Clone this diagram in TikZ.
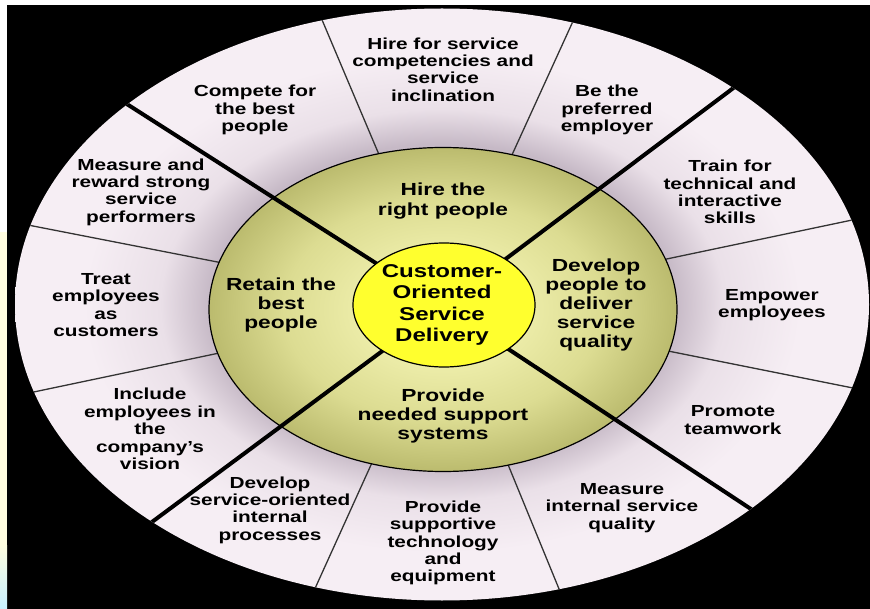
\documentclass[tikz,border=0pt]{standalone}
\usepackage{tikz}
\usepackage{fontspec}
\newfontfamily\lblfont{Liberation Sans}[FakeStretch=1.3]

\definecolor{ringlight}{HTML}{F6EEF4}
\definecolor{ringmid}{HTML}{EAE0E8}
\definecolor{ringshadow}{HTML}{C6B9C6}
\definecolor{olivelight}{HTML}{ECECA8}
\definecolor{olivemid}{HTML}{DCDC92}
\definecolor{olivedark}{HTML}{BBBB6E}
\definecolor{coreyellow}{HTML}{FFFF2E}
\definecolor{stripyellow}{HTML}{FFFDE0}
\definecolor{stripcyan}{HTML}{C8F0FF}

% ring: greyish shadow next to the middle ellipse, fading to pale pink outwards
\pgfdeclareradialshading{ringshade}{\pgfpointorigin}{%
  color(0bp)=(ringshadow); color(13.6bp)=(ringshadow); color(16.5bp)=(ringmid);
  color(21bp)=(ringlight); color(25bp)=(ringlight); color(50bp)=(ringlight)}
% middle ellipse: light olive centre, darker rim
\pgfdeclareradialshading{oliveshade}{\pgfpointorigin}{%
  color(0bp)=(olivelight); color(9bp)=(olivelight); color(17bp)=(olivemid);
  color(25bp)=(olivedark); color(50bp)=(olivedark)}

\begin{document}
\begin{tikzpicture}[x=1pt,y=-1pt,
  ringtext/.style={font=\lblfont\bfseries\fontsize{16}{17.4}\selectfont,
    align=center, inner sep=0pt, text=black},
  midtext/.style={font=\lblfont\bfseries\fontsize{17.5}{19.2}\selectfont,
    align=center, inner sep=0pt, text=black},
  coretext/.style={font=\lblfont\bfseries\fontsize{18.5}{21.3}\selectfont,
    align=center, inner sep=0pt, text=black},
  thinray/.style={draw=black!80, line width=1.3pt},
  thickray/.style={draw=black, line width=4pt},
]
\useasboundingbox (0,0) rectangle (870,609);

% background and page edges
\fill[black] (0,0) rectangle (870,609);
\fill[white] (0,0) rectangle (870,5);
\fill[white] (0,0) rectangle (7,232);
\fill[stripyellow] (0,232) rectangle (7,545);
\shade[top color=stripyellow, bottom color=stripcyan] (0,545) rectangle (7,609);

% common centre of all dividers and their far ends
\coordinate (o) at (443,306);
\coordinate (t1) at (287,-63);
\coordinate (t2) at (611,-62);
\coordinate (t3) at (976,194);
\coordinate (t4) at (983,414);
\coordinate (t5) at (598,684);
\coordinate (t6) at (274,679);
\coordinate (t7) at (-90,418);
\coordinate (t8) at (-90,202);
\coordinate (k1) at (36,46);
\coordinate (k2) at (820,23);
\coordinate (k3) at (851,575);
\coordinate (k4) at (59,591);

% outer ring
\shade[shading=ringshade] (442,304.5) ellipse [x radius=427, y radius=296];

% thin dividers of the outer ring
\begin{scope}
  \clip (442,304.5) ellipse [x radius=427, y radius=296];
  \foreach \p in {t1,t2,t3,t4,t5,t6,t7,t8}
    \draw[thinray] (o) -- (\p);
\end{scope}

% middle ellipse
\shadedraw[shading=oliveshade, draw=black, line width=1.2pt]
  (443,309.5) ellipse [x radius=234, y radius=162];

% thick dividers between the four quadrants
\begin{scope}
  \clip (442,304.5) ellipse [x radius=427, y radius=296];
  \foreach \p in {k1,k2,k3,k4}
    \draw[thickray] (o) -- (\p);
\end{scope}

% core
\filldraw[fill=coreyellow, draw=black, line width=1.2pt]
  (444,305) ellipse [x radius=91, y radius=62];

% outer ring labels
\node[ringtext] (r1)  at (443,69.5) {Hire for service\\competencies and\\service\\inclination};
\node[ringtext] (r2)  at (607,110) {Be the\\preferred\\employer};
\node[ringtext] (r3)  at (255,110) {Compete for\\the best\\people};
\node[ringtext] (r4)  at (141,192) {Measure and\\reward strong\\service\\performers};
\node[ringtext] (r5)  at (730,192) {Train for\\technical and\\interactive\\skills};
\node[ringtext] (r6)  at (106,305) {Treat\\employees\\as\\customers};
\node[ringtext] (r7)  at (772,305) {Empower\\employees};
\node[ringtext] (r8)  at (150,429) {Include\\employees in\\the\\company’s\\vision};
\node[ringtext] (r9)  at (733,420) {Promote\\teamwork};
\node[ringtext] (r10) at (270,510) {Develop\\service-oriented\\internal\\processes};
\node[ringtext] (r11) at (622,508) {Measure\\internal service\\quality};
\node[ringtext] (r12) at (443,543) {Provide\\supportive\\technology\\and\\equipment};

% middle ellipse labels
\node[midtext] (m1) at (443,201) {Hire the\\right people};
\node[midtext] (m2) at (281,305) {Retain the\\best\\people};
\node[midtext] (m3) at (596,305) {Develop\\people to\\deliver\\service\\quality};
\node[midtext] (m4) at (443,416) {Provide\\needed support\\systems};

% core label
\node[coretext] (c) at (442,305) {Customer-\\Oriented\\Service\\Delivery};
\end{tikzpicture}
\end{document}
